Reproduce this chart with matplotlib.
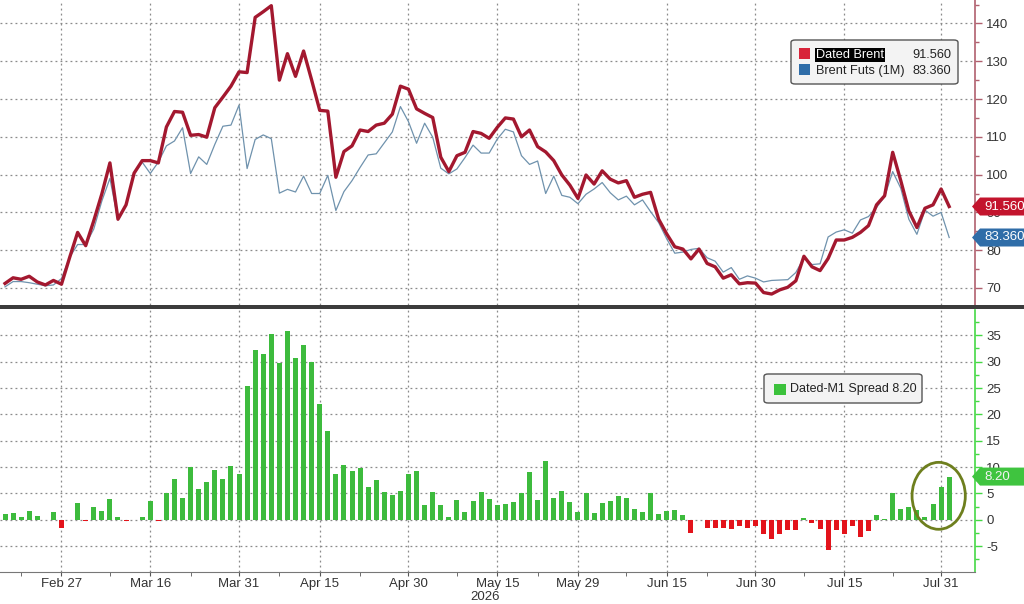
import numpy as np
import matplotlib
matplotlib.use('Agg')
import matplotlib.pyplot as plt
from matplotlib.patches import Rectangle, FancyBboxPatch, Polygon, Ellipse
from matplotlib.ticker import MultipleLocator, FixedLocator

plt.rcParams['font.family'] = ['Liberation Sans', 'DejaVu Sans']

# Dated Brent, daily (business days, Feb 18 .. Aug 3 2026)
dated = [71.2, 72.7, 72.3, 73.1, 71.6, 70.8, 72.0, 71.0, 78.0, 84.7,
         81.2, 87.8, 94.9, 103.1, 88.2, 92.0, 100.4, 103.7, 103.7, 103.1,
         112.6, 116.7, 116.5, 110.4, 110.6, 109.9, 117.7, 120.5, 123.4, 127.2,
         127.0, 141.6, 143.1, 144.7, 125.0, 132.0, 126.0, 132.7, 125.0, 117.0,
         116.8, 99.3, 106.1, 107.6, 111.8, 111.4, 113.1, 113.6, 116.0, 123.4,
         122.6, 117.4, 116.2, 115.1, 104.6, 100.8, 105.0, 105.9, 111.4, 110.9,
         109.6, 112.5, 115.0, 114.7, 110.0, 111.8, 107.4, 106.0, 103.7, 99.9,
         97.2, 93.7, 99.9, 97.5, 101.0, 98.8, 97.8, 98.4, 94.0, 94.8,
         95.3, 88.2, 84.3, 80.9, 80.3, 77.7, 80.3, 76.5, 75.6, 72.6,
         73.5, 71.1, 71.4, 71.3, 68.8, 68.4, 69.5, 70.2, 71.9, 78.4,
         75.6, 74.6, 77.8, 82.7, 82.7, 83.4, 84.7, 86.5, 92.0, 94.4,
         105.9, 98.4, 90.4, 86.0, 91.1, 92.0, 96.2, 91.56]

# Brent futures, front month
futs = [70.3, 71.7, 71.7, 71.4, 71.0, 70.6, 70.8, 72.5, 78.1, 81.5,
        81.5, 85.6, 93.0, 99.0, 88.0, 92.0, 100.3, 103.3, 100.3, 103.3,
        107.6, 108.9, 112.4, 100.3, 104.7, 102.7, 108.0, 112.8, 113.1, 118.4,
        101.6, 109.3, 110.5, 109.5, 95.1, 96.1, 95.4, 99.6, 95.0, 95.0,
        99.8, 90.5, 95.5, 98.4, 101.9, 105.2, 105.5, 108.4, 111.3, 118.0,
        114.0, 108.3, 113.6, 109.9, 101.7, 100.2, 101.5, 104.5, 107.8, 105.7,
        105.7, 109.4, 112.0, 111.3, 105.0, 102.7, 103.6, 95.0, 99.6, 94.5,
        94.0, 92.3, 94.8, 96.2, 97.9, 95.2, 93.3, 94.3, 92.0, 93.3,
        90.2, 87.3, 83.0, 79.2, 79.5, 80.2, 80.5, 78.0, 77.1, 74.2,
        75.4, 72.3, 73.2, 72.6, 71.6, 72.0, 72.1, 72.2, 74.1, 78.0,
        76.2, 76.4, 83.5, 84.8, 85.4, 84.5, 88.0, 88.9, 91.3, 94.2,
        100.8, 96.4, 88.2, 84.2, 90.6, 89.0, 90.0, 83.36]

# Dated minus M1 spread (bars)
spread = [1.1, 1.3, 0.6, 1.6, 0.7, -0.1, 1.5, -1.6, -0.1, 3.2,
          -0.3, 2.5, 1.6, 3.9, 0.5, -0.2, -0.1, 0.5, 3.6, -0.2,
          5.0, 7.7, 4.1, 10.0, 5.9, 7.2, 9.4, 7.7, 10.3, 8.7,
          25.3, 32.2, 31.5, 35.2, 29.8, 35.8, 30.6, 33.1, 29.9, 21.9,
          16.9, 8.7, 10.4, 9.2, 9.9, 6.3, 7.6, 5.2, 4.7, 5.4,
          8.7, 9.2, 2.8, 5.3, 2.8, 0.6, 3.8, 1.5, 3.5, 5.3,
          4.0, 2.9, 3.0, 3.4, 5.0, 9.1, 3.8, 11.1, 4.1, 5.4,
          3.3, 1.5, 5.1, 1.3, 3.1, 3.6, 4.5, 4.1, 2.0, 1.5,
          5.1, 1.1, 1.6, 1.8, 0.9, -2.5, -0.1, -1.5, -1.6, -1.6,
          -1.8, -1.1, -1.6, -1.1, -2.7, -3.6, -2.6, -1.9, -2.0, 0.4,
          -0.6, -1.8, -5.7, -1.9, -2.7, -1.1, -3.3, -2.2, 0.9, 0.2,
          5.1, 2.0, 2.4, 1.8, 0.6, 3.0, 6.3, 8.2]

tick_labels = ['Feb 27', 'Mar 16', 'Mar 31', 'Apr 15', 'Apr 30', 'May 15',
               'May 29', 'Jun 15', 'Jun 30', 'Jul 15', 'Jul 31']
tick_idx = [7, 18, 29, 39, 50, 61, 71, 82, 93, 104, 116]
minor_idx = [2, 13, 23, 34, 44, 56, 66, 77, 87, 99, 110]

RED = '#a3182f'
BLUE = '#6f92ad'
GREEN = '#3dbb3d'
NEG = '#e3131b'
GRID = dict(color='#8a8a8a', linestyle=(0, (1.5, 2.5)), linewidth=0.9)
W, H = 1024, 604

x = np.arange(len(dated))
spread = np.array(spread)


def fxy(px, py):
    # pixel position (from top-left) -> figure fraction
    return px / W, 1 - py / H


fig = plt.figure(figsize=(W / 100, H / 100), dpi=100)
fig.patch.set_facecolor('white')

ax1 = fig.add_axes([0, (H - 305) / H, 975 / W, 305 / H])
ax2 = fig.add_axes([0, (H - 572) / H, 975 / W, (572 - 310) / H])

# ---- top panel: prices
ax1.plot(x, futs, color=BLUE, lw=0.9, zorder=3)
ax1.plot(x, dated, color=RED, lw=2.4, zorder=4)
ax1.set_ylim(65.5, 146.2)
ax1.set_xlim(-0.62, 120.2)
ax1.yaxis.tick_right()
ax1.yaxis.set_major_locator(MultipleLocator(10))
ax1.yaxis.set_minor_locator(MultipleLocator(5))
ax1.tick_params(axis='y', which='major', colors='#b0606e', labelcolor='#333333',
                length=5, width=1, labelsize=9.5, pad=3)
ax1.tick_params(axis='y', which='minor', colors='#b0606e', length=3, width=1)
ax1.set_xticks(tick_idx)
ax1.tick_params(axis='x', length=0, labelbottom=False)
for s in ['left', 'top', 'bottom']:
    ax1.spines[s].set_visible(False)
ax1.spines['right'].set_color('#b0606e')
ax1.spines['right'].set_linewidth(1.2)
ax1.grid(True, which='major', **GRID)

# ---- bottom panel: spread bars
bar_cols = [GREEN if v >= 0 else NEG for v in spread]
ax2.bar(x, spread, width=0.62, color=bar_cols, zorder=3)
ax2.set_ylim(-9.9, 39.8)
ax2.set_xlim(-0.62, 120.2)
ax2.yaxis.tick_right()
ax2.yaxis.set_minor_locator(MultipleLocator(2.5))
ax2.set_yticks([-5, 0, 5, 10, 15, 20, 25, 30, 35])
ax2.set_yticklabels(['-5', '0', '5', '10', '15', '20', '25', '30', '35'])
ax2.tick_params(axis='y', which='major', colors='#45d845', labelcolor='#333333',
                length=5, width=1, labelsize=9.5, pad=3)
ax2.tick_params(axis='y', which='minor', colors='#45d845', length=3, width=1)
ax2.set_xticks(tick_idx)
ax2.set_xticklabels(tick_labels)
ax2.xaxis.set_minor_locator(FixedLocator(minor_idx))
ax2.tick_params(axis='x', which='major', colors='#555555', labelcolor='#333333',
                length=3, labelsize=9.5, pad=1)
ax2.tick_params(axis='x', which='minor', colors='#555555', length=3)
for s in ['left', 'top']:
    ax2.spines[s].set_visible(False)
ax2.spines['right'].set_color('#45d845')
ax2.spines['right'].set_linewidth(1.2)
ax2.spines['bottom'].set_color('#777777')
ax2.grid(True, which='major', **GRID)
fig.text(*fxy(485, 597), '2026', ha='center', va='center', fontsize=9.5,
         color='#333333')

# circled last bars
ax2.add_patch(Ellipse((115.7, 4.55), 6.6, 12.7, fill=False, edgecolor='#6e7f1e',
                      lw=2.0, zorder=5, clip_on=False))

# separator band between panels
fig.add_artist(Rectangle(fxy(0, 309), 1, 4 / H, transform=fig.transFigure,
                         facecolor='#3c3c3c', edgecolor='none'))


# ---- value tags on the right axis
def tag(ax, val, text, face, tcol):
    yd = ax.transData.transform((0, val))[1]
    py = H - yd
    pts = [fxy(972, py), fxy(980, py - 9), fxy(W, py - 9), fxy(W, py + 9),
           fxy(980, py + 9)]
    fig.add_artist(Polygon(pts, closed=True, transform=fig.transFigure,
                           facecolor=face, edgecolor='none', zorder=5))
    fig.text(*fxy(984, py), text, ha='left', va='center', fontsize=9.5,
             color=tcol, zorder=6)


tag(ax1, dated[-1], f'{dated[-1]:.3f}', '#c3142d', 'white')
tag(ax1, futs[-1], f'{futs[-1]:.3f}', '#2f6da8', 'white')
tag(ax2, spread[-1], f'{spread[-1]:.2f}', '#3fc43f', '#f2f2f2')

# ---- legends (Bloomberg-style boxes)
x0, y0 = fxy(791, 84)
x1, y1 = fxy(958, 40)
fig.add_artist(FancyBboxPatch((x0, y0), x1 - x0, y1 - y0,
                              boxstyle='round,pad=0,rounding_size=0.004',
                              transform=fig.transFigure, facecolor='#f3f3f3',
                              edgecolor='#555555', lw=1, zorder=5))
fig.add_artist(Rectangle(fxy(799, 59), 11 / W, 11 / H, transform=fig.transFigure,
                         facecolor='#d8243a', edgecolor='none', zorder=6))
fig.add_artist(Rectangle(fxy(799, 75), 11 / W, 11 / H, transform=fig.transFigure,
                         facecolor='#2f6da8', edgecolor='none', zorder=6))
fig.text(*fxy(816, 55), 'Dated Brent', ha='left', va='center', fontsize=9.2,
         color='white', zorder=7,
         bbox=dict(facecolor='black', edgecolor='none', pad=0.8))
fig.text(*fxy(951, 55), f'{dated[-1]:.3f}', ha='right', va='center',
         fontsize=9.2, color='#222222', zorder=7)
fig.text(*fxy(816, 71), 'Brent Futs (1M)', ha='left', va='center',
         fontsize=9.2, color='#222222', zorder=7)
fig.text(*fxy(951, 71), f'{futs[-1]:.3f}', ha='right', va='center',
         fontsize=9.2, color='#222222', zorder=7)

x0, y0 = fxy(764, 403)
x1, y1 = fxy(922, 374)
fig.add_artist(FancyBboxPatch((x0, y0), x1 - x0, y1 - y0,
                              boxstyle='round,pad=0,rounding_size=0.004',
                              transform=fig.transFigure, facecolor='#f3f3f3',
                              edgecolor='#555555', lw=1, zorder=5))
fig.add_artist(Rectangle(fxy(774, 395), 12 / W, 11 / H, transform=fig.transFigure,
                         facecolor='#3cc23c', edgecolor='none', zorder=6))
fig.text(*fxy(790, 389), f'Dated-M1 Spread {spread[-1]:.2f}', ha='left',
         va='center', fontsize=9.0, color='#222222', zorder=7)

fig.savefig('out.png', dpi=100)
